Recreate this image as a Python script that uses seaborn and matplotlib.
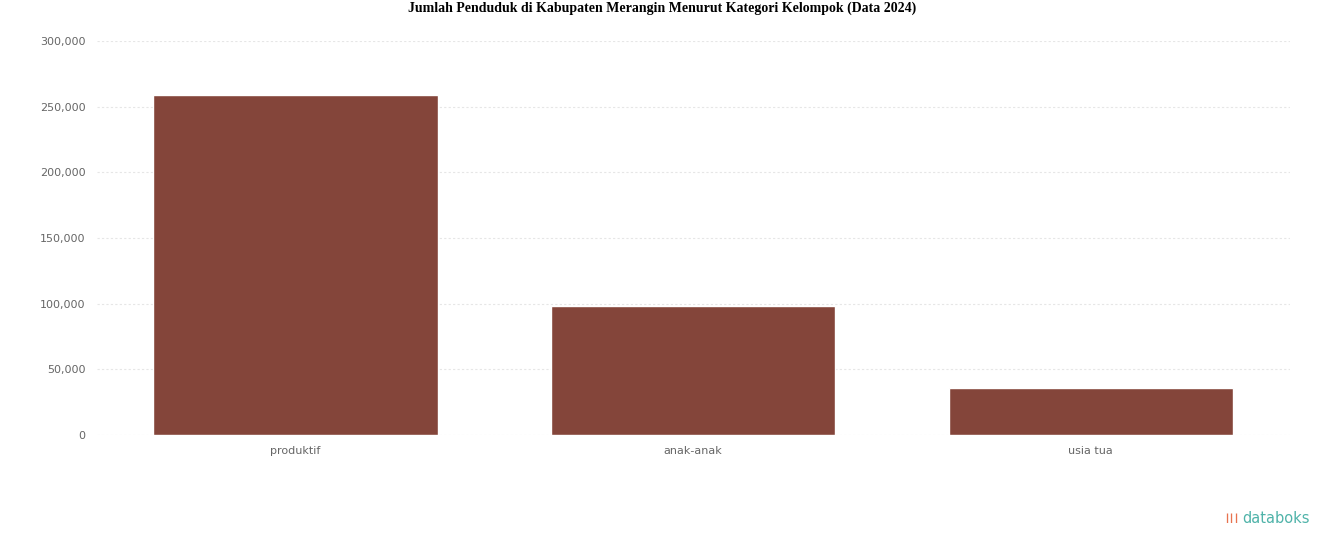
import matplotlib
matplotlib.use("Agg")
import matplotlib.pyplot as plt
import seaborn as sns
import pandas as pd
from matplotlib.ticker import FuncFormatter

kategori = ['produktif', 'anak-anak', 'usia tua']
jumlah = [259000, 98000, 35500]
yticks = [0, 50000, 100000, 150000, 200000, 250000, 300000]

df = pd.DataFrame({'kategori': kategori, 'jumlah': jumlah})

sns.set_style('white')
fig = plt.figure(figsize=(13.24, 5.47), dpi=100)
ax = fig.add_axes([0.073, 0.205, 0.901, 0.72])
sns.barplot(data=df, x='kategori', y='jumlah', color='#84453A', saturation=1, width=0.715, ax=ax)

ax.set_xlim(-0.5, 2.5)
ax.set_ylim(0, 300000)
ax.set_yticks(yticks)
ax.yaxis.set_major_formatter(FuncFormatter(lambda v, p: f'{int(v):,}'))
ax.grid(axis='y', color='#e6e6e6', linestyle=(0, (2, 2)), linewidth=0.8)
ax.set_axisbelow(True)
for s in ax.spines.values():
    s.set_visible(False)
ax.tick_params(axis='both', colors='#666666', labelsize=8, length=0, pad=8)
ax.set_xlabel('')
ax.set_ylabel('')

fig.suptitle('Jumlah Penduduk di Kabupaten Merangin Menurut Kategori Kelompok (Data 2024)',
             y=0.997, fontsize=10, fontweight='bold', family='Liberation Serif', color='black')

# databoks logo
fig.text(0.9385, 0.052, 'databoks', color='#4FB3A9', fontsize=10.5,
         family='DejaVu Sans', va='center')
fig.text(0.9245, 0.052, '\u2503\u2503\u2503', color='#E8734F', fontsize=6, va='center')

fig.savefig('out.png', dpi=100)
